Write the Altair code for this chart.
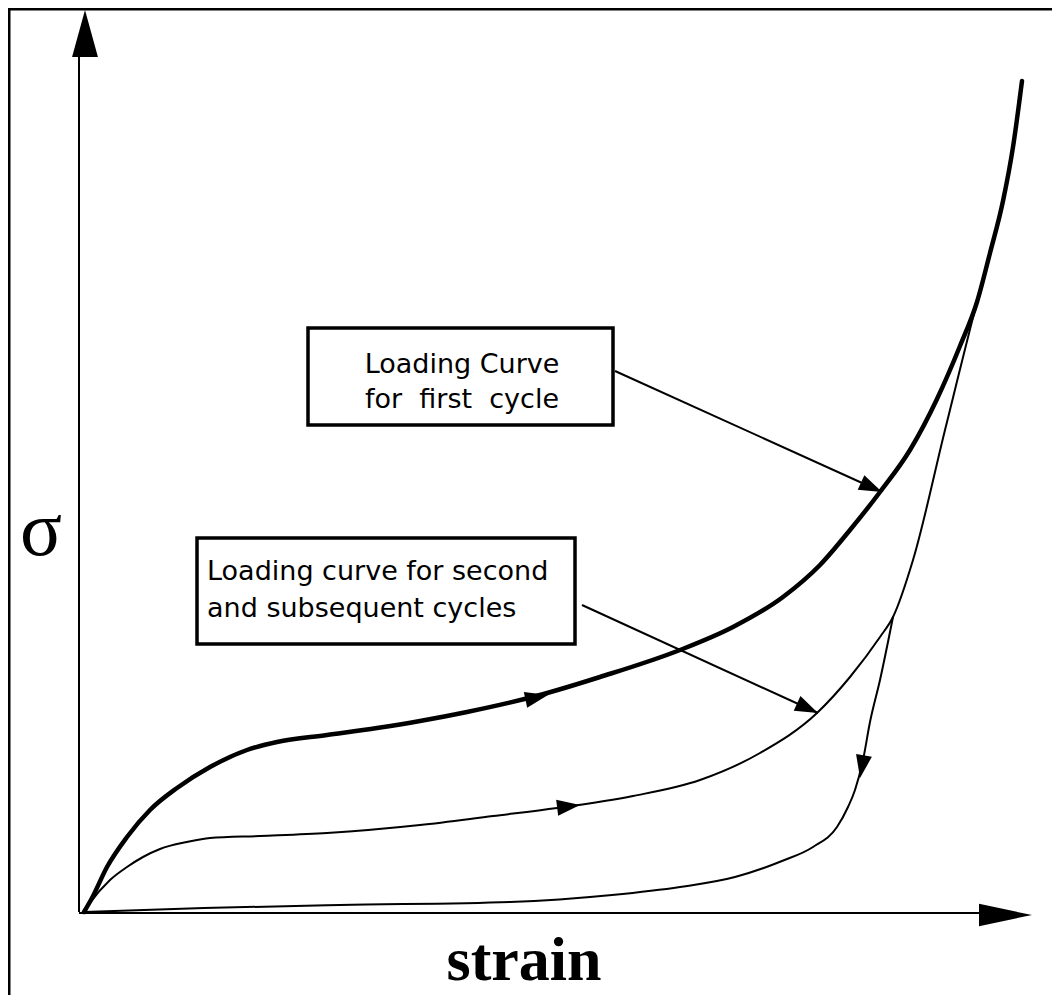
import math
import altair as alt
import pandas as pd

# ---------------- data (strain / stress, arbitrary units) ----------------
first_strain = [0, 8, 23, 43, 66, 93, 126, 163, 193, 243, 293, 336, 383, 456, 516, 596, 649,
                699, 736, 766, 796, 826, 853, 876, 893, 906, 919, 929, 938]
first_stress = [0, 14, 45, 75, 102, 124, 145, 162, 170, 177, 184, 191, 200, 217, 235, 262, 285,
                315, 347, 382, 420, 462, 513, 566, 610, 659, 711, 765, 831]

second_strain = [0, 6, 26, 43, 59, 76, 103, 126, 176, 243, 336, 409, 473, 549, 616, 676, 733,
                 766, 796, 809, 829, 861, 893, 906]
second_stress = [0, 9, 32, 45, 55, 63, 70, 74, 76, 79, 87, 96, 104, 116, 132, 159, 199,
                 235, 275, 295, 352, 482, 610, 659]

# unloading curve, listed from the origin up to where it leaves the second loading curve
unload_strain = [0, 120, 256, 426, 528, 596, 651, 698, 729, 753, 764, 771, 779, 786, 796, 809]
unload_stress = [0, 4, 7, 10, 17, 25, 35, 51, 65, 85, 105, 122, 152, 190, 232, 295]

# direction arrows sitting on the curves (tip position, heading in degrees clockwise from up)
curve_arrow_strain = [464, 496, 776]
curve_arrow_stress = [217, 107, 134]
curve_arrow_heading = [78, 83, 190]

# annotation boxes
box_x0 = [224, 113]
box_x1 = [529, 491]
box_y0 = [487, 268]
box_y1 = [584, 374]

box1_lines = ["Loading Curve", "for\u00a0\u00a0first\u00a0\u00a0cycle"]
box1_x = [378, 378]
box1_y = [539, 504]
box2_lines = ["Loading curve for second", "and subsequent cycles"]
box2_x = [123, 123]
box2_y = [332, 295]

# callout pointers (from box edge to curve)
call_from_x = [531, 498]
call_from_y = [541, 307]
call_to_x = [798, 734]
call_to_y = [420, 199]

# axes
axis_x_end = 895
axis_y_end = 855
axis_arrow_tip_x = [1, 948]
axis_arrow_tip_y = [902, -3]
axis_arrow_heading = [0, 90]

y_label = "σ"
x_label = "strain"

# ---------------- chart ----------------
W, H = 1044, 987
X_DOMAIN = [-76, 968]
Y_DOMAIN = [-83, 904]
xs = alt.Scale(domain=X_DOMAIN, nice=False, zero=False)
ys = alt.Scale(domain=Y_DOMAIN, nice=False, zero=False)


def curve_df(sx, sy):
    return pd.DataFrame({"strain": sx, "stress": sy, "i": list(range(len(sx)))})


def curve_layer(df, width):
    return alt.Chart(df).mark_line(
        color="black", strokeWidth=width, interpolate="monotone",
        strokeCap="round", strokeJoin="round"
    ).encode(
        x=alt.X("strain:Q", scale=xs, axis=None),
        y=alt.Y("stress:Q", scale=ys, axis=None),
        order=alt.Order("i:Q"),
    )


def arrow_df(tx, ty, heading, length):
    rows = []
    for a, b, h in zip(tx, ty, heading):
        r = math.radians(h)
        rows.append({
            "cx": a - length / 2 * math.sin(r),
            "cy": b - length / 2 * math.cos(r),
            "angle": h % 360,
        })
    return pd.DataFrame(rows)


def arrow_layer(df, length, ratio):
    shape = f"M0,-1L{ratio},1L-{ratio},1Z"
    return alt.Chart(df).mark_point(
        shape=shape, filled=True, fill="black", strokeWidth=0, opacity=1, size=length * length
    ).encode(
        x=alt.X("cx:Q", scale=xs, axis=None),
        y=alt.Y("cy:Q", scale=ys, axis=None),
        angle=alt.Angle("angle:Q", scale=None),
    )


first = curve_layer(curve_df(first_strain, first_stress), 4.5)
second = curve_layer(curve_df(second_strain, second_stress), 2)
unload = curve_layer(curve_df(unload_strain, unload_stress), 2)

# axes lines
axes_df = pd.DataFrame({
    "x": [-5, -5], "x2": [-5, axis_x_end],
    "y": [0, -1], "y2": [axis_y_end, -1],
})
axes = alt.Chart(axes_df).mark_rule(color="black", strokeWidth=2).encode(
    x=alt.X("x:Q", scale=xs, axis=None), x2="x2:Q",
    y=alt.Y("y:Q", scale=ys, axis=None), y2="y2:Q",
)

# callout lines
call_df = pd.DataFrame({"x": call_from_x, "y": call_from_y, "x2": call_to_x, "y2": call_to_y})
callouts = alt.Chart(call_df).mark_rule(color="black", strokeWidth=2).encode(
    x=alt.X("x:Q", scale=xs, axis=None), x2="x2:Q",
    y=alt.Y("y:Q", scale=ys, axis=None), y2="y2:Q",
)

call_heading = [math.degrees(math.atan2(tx - fx, ty - fy))
                for fx, fy, tx, ty in zip(call_from_x, call_from_y, call_to_x, call_to_y)]

SMALL_L = 23
small_arrows = arrow_layer(
    pd.concat([
        arrow_df(curve_arrow_strain, curve_arrow_stress, curve_arrow_heading, SMALL_L),
        arrow_df(call_to_x, call_to_y, call_heading, SMALL_L),
    ], ignore_index=True),
    SMALL_L, 0.7,
)
y_arrow = arrow_layer(arrow_df(axis_arrow_tip_x[:1], axis_arrow_tip_y[:1], axis_arrow_heading[:1], 47), 47, 0.55)
x_arrow = arrow_layer(arrow_df(axis_arrow_tip_x[1:], axis_arrow_tip_y[1:], axis_arrow_heading[1:], 53), 53, 0.42)

# boxes
box_df = pd.DataFrame({"x": box_x0, "x2": box_x1, "y": box_y0, "y2": box_y1})
boxes = alt.Chart(box_df).mark_rect(fill="white", stroke="black", strokeWidth=3.5).encode(
    x=alt.X("x:Q", scale=xs, axis=None), x2="x2:Q",
    y=alt.Y("y:Q", scale=ys, axis=None), y2="y2:Q",
)

t1 = alt.Chart(pd.DataFrame({"x": box1_x, "y": box1_y, "t": box1_lines})).mark_text(
    font="DejaVu Sans", fontSize=27, align="center", baseline="alphabetic", color="black"
).encode(x=alt.X("x:Q", scale=xs, axis=None), y=alt.Y("y:Q", scale=ys, axis=None), text="t:N")

t2 = alt.Chart(pd.DataFrame({"x": box2_x, "y": box2_y, "t": box2_lines})).mark_text(
    font="DejaVu Sans", fontSize=27, align="left", baseline="alphabetic", color="black"
).encode(x=alt.X("x:Q", scale=xs, axis=None), y=alt.Y("y:Q", scale=ys, axis=None), text="t:N")

sig = alt.Chart(pd.DataFrame({"x": [-43], "y": [357], "t": [y_label]})).mark_text(
    font="Liberation Serif", fontSize=78, align="center", baseline="alphabetic", color="black"
).encode(x=alt.X("x:Q", scale=xs, axis=None), y=alt.Y("y:Q", scale=ys, axis=None), text="t:N")

strain_lbl = alt.Chart(pd.DataFrame({"x": [440], "y": [-68], "t": [x_label]})).mark_text(
    font="Liberation Serif", fontSize=62, fontWeight="bold", align="center",
    baseline="alphabetic", color="black"
).encode(x=alt.X("x:Q", scale=xs, axis=None), y=alt.Y("y:Q", scale=ys, axis=None), text="t:N")

# outer frame (top and left edges are the visible ones)
frame_top = alt.Chart(pd.DataFrame({"a": [0]})).mark_rule(color="black", strokeWidth=3).encode(
    x=alt.value(0), x2=alt.value(W), y=alt.value(1)
)
frame_left = alt.Chart(pd.DataFrame({"a": [0]})).mark_rule(color="black", strokeWidth=3).encode(
    x=alt.value(1), y=alt.value(0), y2=alt.value(H)
)

chart = alt.layer(
    frame_top, frame_left, axes, unload, second, first, callouts, small_arrows, y_arrow, x_arrow,
    boxes, t1, t2, sig, strain_lbl,
).properties(
    width=W, height=H, padding=0, autosize=alt.AutoSizeParams(type="none"),
    background="white",
).configure_view(stroke=None)

chart.save("out.html", embed_options={"renderer": "svg", "actions": False})
